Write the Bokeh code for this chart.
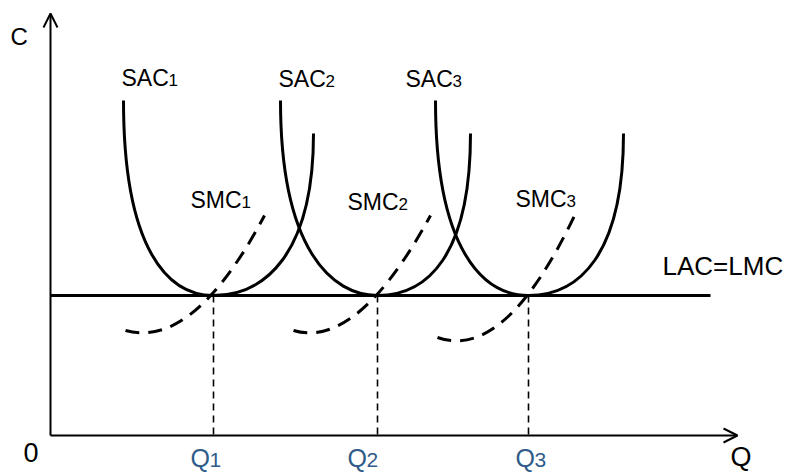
from bokeh.plotting import figure
from bokeh.models import Range1d, Arrow, OpenHead, ColumnDataSource
from bokeh.core.properties import value
from bokeh.embed import file_html
from bokeh.resources import INLINE

# ---- data (chart units: x = quantity Q, y = cost C) ----
q_points = [163, 327, 478]            # Q1, Q2, Q3
lac_level = 140                        # LAC = LMC
lac_end = 660
sac_left_top_x = [73, 230, 385]
sac_right_top_x = [263, 420, 573]
sac_left_top_y = 335
sac_right_top_y = 302
# curve handles
sac_handle_bottom_left = 45
sac_handle_bottom_right = 50
sac_handle_side_left = 45
sac_handle_side_right = 40
# SMC curves: offsets from (Q, LAC) of start, control and end points
smc_start_dx = [-88, -84, -91]
smc_start_dy = [-35, -35, -42]
smc_ctrl_dx = [-20, -20, -23]
smc_ctrl_dy = [-54, -54, -66]
smc_end_dx = [51, 53, 47]
smc_end_dy = [80, 80, 82]
x_axis_end = 687
y_axis_end = 422

sac_names = ["SAC", "SAC", "SAC"]
smc_names = ["SMC", "SMC", "SMC"]
subs = ["1", "2", "3"]
q_names = ["Q", "Q", "Q"]

FONT = value("Liberation Sans")
INK = "#000000"
BLUE = "#2f5b8a"
K = 0.37  # baseline correction (fraction of font size)

p = figure(width=786, height=472, x_range=Range1d(-50, 736), y_range=Range1d(-37, 435),
           output_backend="svg", toolbar_location=None, min_border=0,
           x_axis_location=None, y_axis_location=None)
p.grid.visible = False
p.outline_line_color = None
p.background_fill_color = "white"
p.border_fill_color = "white"

# axes with arrows
p.add_layout(Arrow(end=OpenHead(size=14, line_width=2, line_color=INK),
                   x_start=0, y_start=0, x_end=x_axis_end, y_end=0,
                   line_width=2, line_color=INK))
p.add_layout(Arrow(end=OpenHead(size=14, line_width=2, line_color=INK),
                   x_start=0, y_start=0, x_end=0, y_end=y_axis_end,
                   line_width=2, line_color=INK))

# LAC = LMC
p.line([0, lac_end], [lac_level, lac_level], line_width=3, line_color=INK)

# Q dashed drops
p.segment(x0=q_points, y0=[lac_level] * 3, x1=q_points, y1=[0] * 3,
          line_width=1.6, line_color=INK, line_dash="7 5")

# SAC curves (two halves each)
n = len(q_points)
p.bezier(x0=q_points, y0=[lac_level] * n,
         x1=sac_left_top_x, y1=[sac_left_top_y] * n,
         cx0=[q - sac_handle_bottom_left for q in q_points], cy0=[lac_level] * n,
         cx1=sac_left_top_x, cy1=[lac_level + sac_handle_side_left] * n,
         line_width=3, line_color=INK)
p.bezier(x0=q_points, y0=[lac_level] * n,
         x1=sac_right_top_x, y1=[sac_right_top_y] * n,
         cx0=[q + sac_handle_bottom_right for q in q_points], cy0=[lac_level] * n,
         cx1=sac_right_top_x, cy1=[lac_level + sac_handle_side_right] * n,
         line_width=3, line_color=INK)

# SMC curves (dashed)
p.quadratic(x0=[q + d for q, d in zip(q_points, smc_start_dx)],
            y0=[lac_level + d for d in smc_start_dy],
            x1=[q + d for q, d in zip(q_points, smc_end_dx)],
            y1=[lac_level + d for d in smc_end_dy],
            cx=[q + d for q, d in zip(q_points, smc_ctrl_dx)],
            cy=[lac_level + d for d in smc_ctrl_dy],
            line_width=3, line_color=INK, line_dash="14 9")

common = dict(text_font=FONT, text_baseline="alphabetic", text_align="left")


def label(xs, ys, texts, size, color, dx=0):
    src = ColumnDataSource(dict(x=xs, y=[y + K * size for y in ys], t=texts))
    p.text(x="x", y="y", text="t", source=src, text_font_size=f"{size}px",
           text_color=color, x_offset=dx, **common)


# SAC / SMC labels
label([71, 228, 355], [349, 348, 348], sac_names, 23, INK)
label([71, 228, 355], [349, 348, 348], subs, 17, INK, dx=47)
label([140, 297, 465], [227, 225, 228], smc_names, 23, INK)
label([140, 297, 465], [227, 225, 228], subs, 17, INK, dx=51)
# Q labels under the axis
label([140, 297, 465], [-32, -32, -32], q_names, 25, BLUE)
label([140, 297, 465], [-32, -32, -32], subs, 21, BLUE, dx=19)

label([612], [160], ["LAC=LMC"], 26, INK)
label([-40], [390], ["C"], 24, INK)
label([-27], [-27], ["0"], 27, INK)
label([680], [-31], ["Q"], 27, INK)

open("out.html", "w").write(file_html(p, INLINE))
